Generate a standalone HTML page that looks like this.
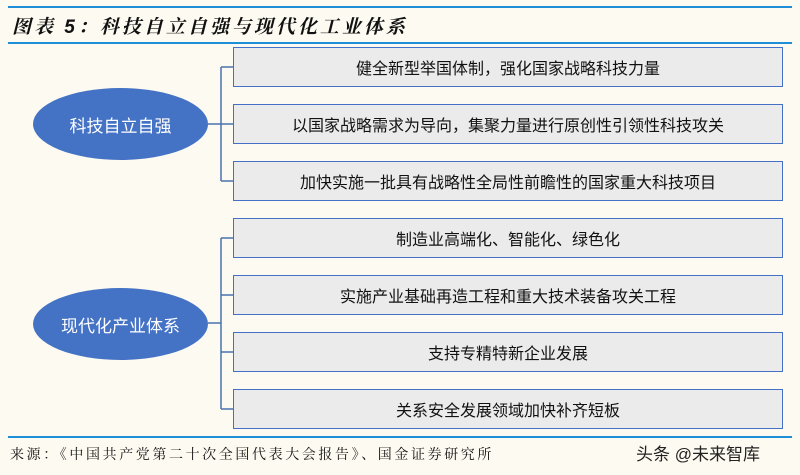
<!DOCTYPE html><html><head><meta charset="utf-8"><style>
body{margin:0;width:800px;height:475px;background:#fdfaf1;position:relative;overflow:hidden;font-family:"Liberation Sans","Noto Sans CJK SC",sans-serif}
.ln{position:absolute;left:8px;width:784px;height:2px;background:#1e8fd8}
.t{position:absolute;left:12px;top:12px;font-size:19px;font-weight:bold;font-style:italic;color:#111;font-family:"Liberation Sans","Noto Serif CJK SC",serif;letter-spacing:3px}
.b{position:absolute;left:233px;width:550px;height:40px;background:#ebebeb;border:1.5px solid #4470c8;box-sizing:border-box;display:flex;align-items:center;justify-content:center;font-size:16px;color:#111}
.e{position:absolute;left:33px;width:175px;height:72px;border-radius:50%;background:#4472c4;color:#fff;display:flex;align-items:center;justify-content:center;font-size:17px}
.s{position:absolute;left:10px;top:444px;font-size:14px;color:#111;font-family:"Liberation Serif","Noto Serif CJK SC",serif;letter-spacing:2.6px}
.w{position:absolute;left:636px;top:440px;font-size:17px;color:#222}
</style></head><body>
<div class="ln" style="top:6px"></div>
<div class="t">图表 5：科技自立自强与现代化工业体系</div>
<div class="ln" style="top:42px"></div>
<svg style="position:absolute;left:0;top:0" width="800" height="475">
<g stroke="#4a72b0" stroke-width="1.5" fill="none">
<path d="M208 124H221M221 67V181M221 67H233M221 124H233M221 181H233"/>
<path d="M208 323H221M221 238V409M221 238H233M221 295H233M221 352H233M221 409H233"/>
</g></svg>
<div class="e" style="top:88px">科技自立自强</div>
<div class="e" style="top:288px">现代化产业体系</div>
<div class="b" style="top:47px">健全新型举国体制，强化国家战略科技力量</div>
<div class="b" style="top:104px">以国家战略需求为导向，集聚力量进行原创性引领性科技攻关</div>
<div class="b" style="top:161px">加快实施一批具有战略性全局性前瞻性的国家重大科技项目</div>
<div class="b" style="top:218px">制造业高端化、智能化、绿色化</div>
<div class="b" style="top:275px">实施产业基础再造工程和重大技术装备攻关工程</div>
<div class="b" style="top:332px">支持专精特新企业发展</div>
<div class="b" style="top:389px">关系安全发展领域加快补齐短板</div>
<div class="ln" style="top:436px"></div>
<div class="s">来源：《中国共产党第二十次全国代表大会报告》、国金证券研究所</div>
<div class="w">头条 @未来智库</div>
</body></html>
